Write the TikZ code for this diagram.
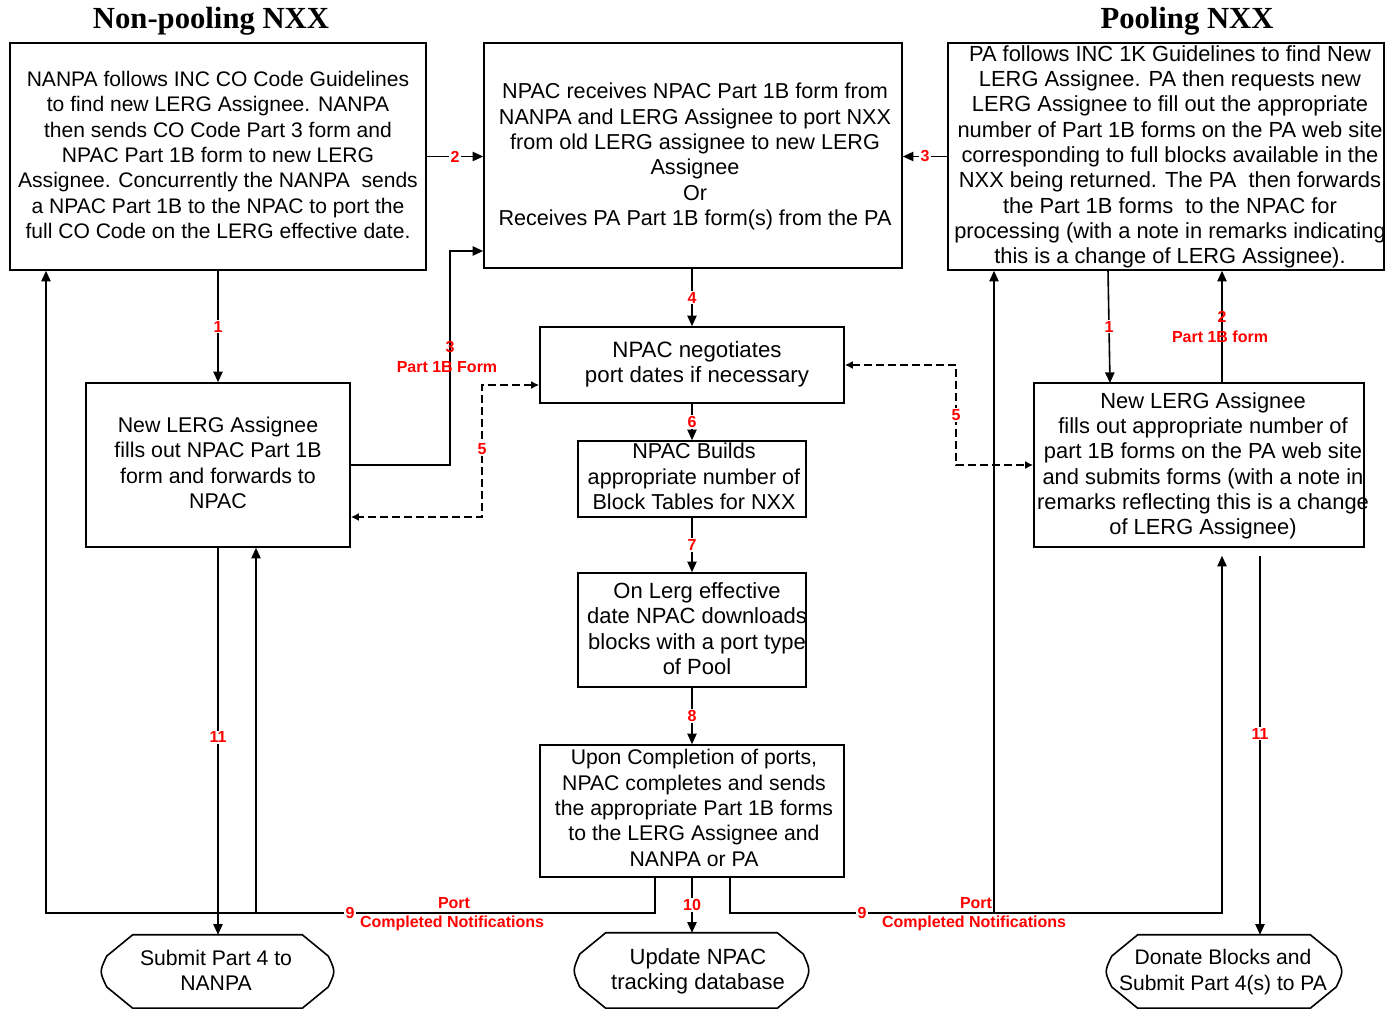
\documentclass[tikz,border=0pt]{standalone}
\usepackage{fontspec}
\setmainfont{Liberation Sans}
\newfontfamily\titlefont{Liberation Serif}
\usetikzlibrary{arrows.meta}
\begin{document}
\begin{tikzpicture}[x=0.75pt,y=-0.75pt,
 box/.style={draw, line width=1.2pt, inner sep=0pt},
 term/.style={inner sep=0pt},
 txt/.style={align=center, inner sep=0pt, font=\fontsize{#1}{19}\selectfont},
 txt/.default=15.8,
 arr/.style={line width=1.2pt, -{Triangle[length=8pt,width=7pt]}},
 ln/.style={line width=1.2pt},
 dsh/.style={line width=1.2pt, dash pattern=on 6pt off 3pt, {Latex[length=6pt,width=6pt]}-{Latex[length=6pt,width=6pt]}},
 lbl/.style={text=red, inner sep=1pt, font=\bfseries\fontsize{12}{14}\selectfont},
 num/.style={lbl, fill=white},
 ttl/.style={font=\titlefont\bfseries\fontsize{23}{26}\selectfont, inner sep=0pt}]
\useasboundingbox (0,0) rectangle (1400,1009);

% titles
\node[ttl] (t1) at (211,21) {Non-pooling NXX};
\node[ttl] (t2) at (1187,21) {Pooling NXX};

% boxes
\node[box, minimum width=312pt, minimum height=170.25pt] (A) at (218,156.5) {};
\node[box, minimum width=313.5pt, minimum height=168.75pt] (B) at (693,155.5) {};
\node[box, minimum width=327pt, minimum height=170.25pt] (C) at (1166,156.5) {};
\node[box, minimum width=198pt, minimum height=123pt] (D) at (218,465) {};
\node[box, minimum width=228pt, minimum height=57pt] (E) at (692,365) {};
\node[box, minimum width=171pt, minimum height=57pt] (F) at (692,479) {};
\node[box, minimum width=171pt, minimum height=85.5pt] (G) at (692,630) {};
\node[box, minimum width=228pt, minimum height=99pt] (H) at (692,811) {};
\node[box, minimum width=247.5pt, minimum height=123pt] (I) at (1199,465) {};
\node[term, minimum width=168.75pt, minimum height=54.75pt] (L) at (217.5,971.5) {};
\node[term, minimum width=170.25pt, minimum height=56.25pt] (M) at (691.5,970.5) {};
\node[term, minimum width=171pt, minimum height=54.75pt] (R) at (1224,971.5) {};
\foreach \n in {L,M,R}{
 \draw[ln] ([xshift=21pt]\n.north west) -- ([xshift=-21pt]\n.north east)
  -- ([xshift=-1.5pt,yshift=-16pt]\n.north east) .. controls ([xshift=4pt]\n.east) .. ([xshift=-1.5pt,yshift=16pt]\n.south east)
  -- ([xshift=-21pt]\n.south east) -- ([xshift=21pt]\n.south west)
  -- ([xshift=1.5pt,yshift=16pt]\n.south west) .. controls ([xshift=-4pt]\n.west) .. ([xshift=1.5pt,yshift=-16pt]\n.north west) -- cycle;
}

% texts
\node[txt=15.8] (At) at (218,155) {NANPA follows INC CO Code Guidelines\\to find new LERG Assignee. NANPA\\then sends CO Code Part 3 form and\\NPAC Part 1B form to new LERG\\Assignee. Concurrently the NANPA\ \ sends\\a NPAC Part 1B to the NPAC to port the\\full CO Code on the LERG effective date.};
\node[txt=16.2] (Bt) at (695,156.5) {NPAC receives NPAC Part 1B form from\\NANPA and LERG Assignee to port NXX\\from old LERG assignee to new LERG\\Assignee\\Or\\Receives PA Part 1B form(s) from the PA};
\node[txt=16.4] (Ct) at (1170,157) {PA follows INC 1K Guidelines to find New\\LERG Assignee. PA then requests new\\LERG Assignee to fill out the appropriate\\number of Part 1B forms on the PA web site\\corresponding to full blocks available in the\\NXX being returned. The PA\ \ then forwards\\the Part 1B forms\ \ to the NPAC for\\processing (with a note in remarks indicating\\this is a change of LERG Assignee).};
\node[txt=16] (Dt) at (218,463) {New LERG Assignee\\fills out NPAC Part 1B\\form and forwards to\\NPAC};
\node[txt=16.7] (Et) at (697,364) {NPAC negotiates\\port dates if necessary};
\node[txt=16.2] (Ft) at (694,476.5) {NPAC Builds\\appropriate number of\\Block Tables for NXX};
\node[txt=16.5] (Gt) at (697,628.5) {On Lerg effective\\date NPAC downloads\\blocks with a port type\\of Pool};
\node[txt=15.9] (Ht) at (694,808) {Upon Completion of ports,\\NPAC completes and sends\\the appropriate Part 1B forms\\to the LERG Assignee and\\NANPA or PA};
\node[txt=16.4] (It) at (1203,466) {New LERG Assignee\\fills out appropriate number of\\part 1B forms on the PA web site\\and submits forms (with a note in\\remarks reflecting this is a change\\of LERG Assignee)};
\node[txt=15.9] (Lt) at (216,970) {Submit Part 4 to\\NANPA};
\node[txt=16.5] (Mt) at (698,971) {Update NPAC\\tracking database};
\node[txt=15.8] (Rt) at (1223,972) {Donate Blocks and\\Submit Part 4(s) to PA};

% coordinates
\coordinate (c3) at (450,251);
\coordinate (cl1) at (482,385);
\coordinate (cl2) at (482,517);
\coordinate (cr) at (956,465);
\coordinate (ca1) at (1108,270);
\coordinate (ca2) at (1110,383);
\coordinate (cb) at (1222,0);
\coordinate (c11) at (1260,0);
\coordinate (hL) at (655,877);
\coordinate (hR) at (730,877);
\coordinate (bl) at (46,913);
\coordinate (bj) at (256,913);
\coordinate (br) at (1222,913);
\coordinate (bk) at (994,913);

% connectors
\draw[arr] (A.south) -- (D.north) node[num, pos=0.5] {1};
\draw[arr] (A.east) -- (A.east -| B.west) node[num, pos=0.5] {2};
\draw[arr] (D.east) -| (c3) -- (c3 -| B.west);
\node[lbl] (l3) at (450,347) {3};
\node[lbl] (l3b) at (447,367) {Part 1B Form};
\draw[arr] (C.west) -- (C.west -| B.east) node[num, pos=0.5] {3};
\draw[arr] (B.south -| E.north) -- (E.north) node[num, pos=0.5] {4};
\draw[arr] (E.south) -- (F.north) node[num, pos=0.5] {6};
\draw[arr] (F.south) -- (G.north) node[num, pos=0.5] {7};
\draw[arr] (G.south) -- (H.north) node[num, pos=0.5] {8};
\draw[arr] (H.south) -- (H.south |- M.north) node[num, pos=0.5] {10};
\draw[dsh] (cl1 -| E.west) -- (cl1) -- (cl2) -- (cl2 -| D.east);
\node[num] (l5a) at (482,449) {5};
\draw[dsh] (E.east) -| (cr) -- (I.west);
\node[num] (l5b) at (956,415) {5};
\draw[arr] (ca1) -- (ca2) node[num, pos=0.5] {1};
\draw[arr] (I.north -| cb) -- (C.south -| cb);
\node[lbl] (l2) at (1222,317) {2};
\node[lbl] (l2b) at (1220,337) {Part 1B form};
\draw[arr] (D.south) -- (D.south |- L.north) node[num, pos=0.49] {11};
\draw[arr, shorten <=6pt] (I.south -| c11) -- (R.north -| c11) node[num, pos=0.48] {11};
% port completed notifications
\draw[arr] (hL) |- (bl) -- (bl |- A.south);
\draw[arr] (bj) -- (bj |- D.south);
\draw[arr, shorten >=6pt] (hR) |- (br) -- (br |- I.south);
\draw[arr] (bk) -- (bk |- C.south);
\node[num] (l9a) at (350,913) {9};
\node[lbl] (p1) at (454,903) {Port};
\node[lbl] (n1) at (452,923) {Completed Notifications};
\node[num] (l9b) at (862,913) {9};
\node[lbl] (p2) at (976,903) {Port};
\node[lbl] (n2) at (974,923) {Completed Notifications};
\end{tikzpicture}
\end{document}
